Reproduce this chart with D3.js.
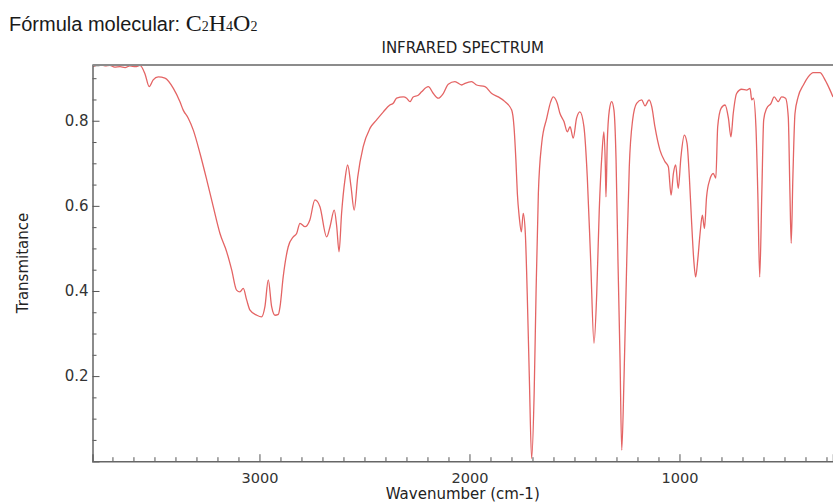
<!DOCTYPE html>
<html>
<head>
<meta charset="utf-8">
<script src="https://cdn.jsdelivr.net/npm/d3@7"></script>
<style>
  html, body { margin: 0; padding: 0; background: #fff; }
  svg { display: block; }
</style>
</head>
<body>
<svg id="chart" width="833" height="504"></svg>
<script>
// ---- data ----
const wavenumber = [3792,3760,3735,3712,3690,3664,3640,3617,3590,3569,3545,3525,3506,3482,3450,3410,3379,3363,3339,3315,3283,3251,3220,3188,3156,3132,3109,3093,3077,3061,3045,3013,2990,2974,2958,2942,2926,2910,2902,2887,2863,2839,2823,2807,2783,2760,2736,2712,2680,2664,2644,2632,2621,2609,2593,2580,2564,2549,2532,2506,2474,2442,2410,2379,2363,2347,2315,2299,2283,2268,2244,2228,2196,2172,2149,2125,2101,2069,2037,2021,1990,1966,1926,1894,1863,1831,1799,1788,1779,1772,1763,1753,1744,1734,1725,1715,1704,1692,1683,1672,1656,1632,1613,1601,1582,1569,1550,1534,1521,1506,1490,1474,1455,1439,1423,1407,1394,1382,1369,1360,1353,1350,1344,1334,1323,1312,1302,1293,1283,1275,1264,1251,1239,1223,1204,1180,1164,1145,1132,1117,1093,1069,1053,1040,1029,1018,1006,993,977,964,953,942,932,923,913,902,891,881,871,856,839,827,818,802,783,767,755,744,728,704,680,664,656,648,636,627,618,608,599,585,564,549,530,514,495,482,474,468,460,450,435,410,387,363,331,307,283,269];
const transmittance = [0.928,0.932,0.929,0.930,0.926,0.927,0.925,0.929,0.927,0.930,0.910,0.880,0.896,0.903,0.900,0.876,0.845,0.825,0.806,0.778,0.723,0.661,0.598,0.535,0.492,0.449,0.402,0.398,0.406,0.379,0.355,0.343,0.339,0.363,0.426,0.363,0.343,0.345,0.363,0.433,0.504,0.527,0.535,0.559,0.551,0.567,0.614,0.598,0.527,0.551,0.590,0.551,0.492,0.582,0.661,0.696,0.645,0.590,0.668,0.739,0.782,0.802,0.821,0.837,0.841,0.853,0.856,0.853,0.845,0.856,0.860,0.868,0.880,0.864,0.853,0.864,0.886,0.892,0.884,0.888,0.892,0.884,0.880,0.864,0.856,0.845,0.825,0.786,0.708,0.629,0.574,0.539,0.582,0.535,0.394,0.198,0.006,0.159,0.394,0.629,0.747,0.806,0.845,0.856,0.841,0.817,0.798,0.774,0.786,0.759,0.806,0.821,0.786,0.668,0.473,0.277,0.394,0.590,0.723,0.774,0.692,0.621,0.747,0.825,0.845,0.825,0.708,0.473,0.238,0.026,0.198,0.473,0.692,0.802,0.841,0.849,0.835,0.849,0.833,0.786,0.731,0.704,0.692,0.625,0.676,0.696,0.641,0.715,0.766,0.747,0.668,0.559,0.473,0.433,0.473,0.535,0.578,0.547,0.621,0.661,0.676,0.665,0.786,0.829,0.837,0.806,0.762,0.817,0.864,0.874,0.872,0.876,0.849,0.853,0.786,0.629,0.433,0.629,0.802,0.829,0.841,0.856,0.845,0.856,0.853,0.809,0.629,0.512,0.668,0.817,0.856,0.884,0.903,0.913,0.913,0.896,0.872,0.856];
const xTickValues = [3000, 2000, 1000];
const yTickValues = [0.2, 0.4, 0.6, 0.8];
const chartTitle = "INFRARED SPECTRUM";
const xLabel = "Wavenumber (cm-1)";
const yLabel = "Transmitance";

// ---- layout ----
const svg = d3.select("#chart");
const pL = 92.5, pR = 833, pT = 65, pB = 461.2;

const x = d3.scaleLinear().domain([3795, 269]).range([pL, pR]);
const y = d3.scaleLinear().domain([0, 0.931]).range([pB, pT]);

// header
const head = svg.append("text").attr("x", 9).attr("y", 31).attr("fill", "#1a1a1a");
head.append("tspan").attr("font-family", "Liberation Sans, Arial, sans-serif").attr("font-size", 20).text("Fórmula molecular: ");
const formula = [["C", false], ["2", true], ["H", false], ["4", true], ["O", false], ["2", true]];
formula.forEach(([t, sub]) => {
  head.append("tspan").attr("font-family", "Liberation Serif, Times New Roman, serif")
    .attr("font-size", sub ? 14 : 24).text(t);
});

// title
svg.append("text").attr("x", (pL + pR) / 2).attr("y", 53).attr("text-anchor", "middle")
  .attr("font-family", "DejaVu Sans, sans-serif").attr("font-size", 15).attr("fill", "#222").text(chartTitle);

// line
const data = wavenumber.map((w, i) => ({ w, t: transmittance[i] }));
svg.append("defs").append("clipPath").attr("id", "clip").append("rect")
  .attr("x", pL).attr("y", pT - 2).attr("width", pR - pL).attr("height", pB - pT + 2);
svg.append("path").datum(data)
  .attr("clip-path", "url(#clip)")
  .attr("fill", "none").attr("stroke", "#e46464").attr("stroke-width", 1.3).attr("stroke-linejoin", "round")
  .attr("d", d3.line().x(d => x(d.w)).y(d => y(d.t)).curve(d3.curveMonotoneX));

// axes (ticks pointing inward)
const font = "DejaVu Sans, sans-serif";
const xMinor = d3.range(3700, 260, -100).filter(v => !xTickValues.includes(v));
const xAxisMinor = d3.axisBottom(x).tickValues(xMinor).tickSize(-4).tickFormat("");
const gxm = svg.append("g").attr("transform", `translate(0,${pB})`).call(xAxisMinor);
gxm.select(".domain").remove();
gxm.selectAll("line").attr("stroke", "#555");

const xAxis = d3.axisBottom(x).tickValues(xTickValues).tickSize(-7).tickPadding(12).tickFormat(d3.format("d"));
const gx = svg.append("g").attr("transform", `translate(0,${pB})`).call(xAxis);
gx.select(".domain").attr("stroke", "#666").attr("stroke-width", 1.5);
gx.selectAll("line").attr("stroke", "#555");
gx.selectAll("text").attr("font-family", font).attr("font-size", 14.5).attr("fill", "#333");

const yMinor = d3.range(0.05, 0.93, 0.05).map(v => +v.toFixed(2)).filter(v => !yTickValues.includes(v));
const yAxisMinor = d3.axisLeft(y).tickValues(yMinor).tickSize(-4).tickFormat("");
const gym = svg.append("g").attr("transform", `translate(${pL},0)`).call(yAxisMinor);
gym.select(".domain").remove();
gym.selectAll("line").attr("stroke", "#555");

const yAxis = d3.axisLeft(y).tickValues(yTickValues).tickSize(-7).tickPadding(4).tickFormat(d3.format(".1f"));
const gy = svg.append("g").attr("transform", `translate(${pL},0)`).call(yAxis);
gy.select(".domain").attr("stroke", "#666").attr("stroke-width", 1.5);
gy.selectAll("line").attr("stroke", "#555");
gy.selectAll("text").attr("font-family", font).attr("font-size", 15).attr("fill", "#333");

// top spine
svg.append("line").attr("x1", pL).attr("x2", pR).attr("y1", pT).attr("y2", pT)
  .attr("stroke", "#8c8c8c").attr("stroke-width", 2);

// axis labels
svg.append("text").attr("x", (pL + pR) / 2).attr("y", 499).attr("text-anchor", "middle")
  .attr("font-family", font).attr("font-size", 15).attr("fill", "#222").text(xLabel);
svg.append("text").attr("transform", `translate(28,263) rotate(-90)`).attr("text-anchor", "middle")
  .attr("font-family", font).attr("font-size", 15).attr("fill", "#222").text(yLabel);
</script>
</body>
</html>
